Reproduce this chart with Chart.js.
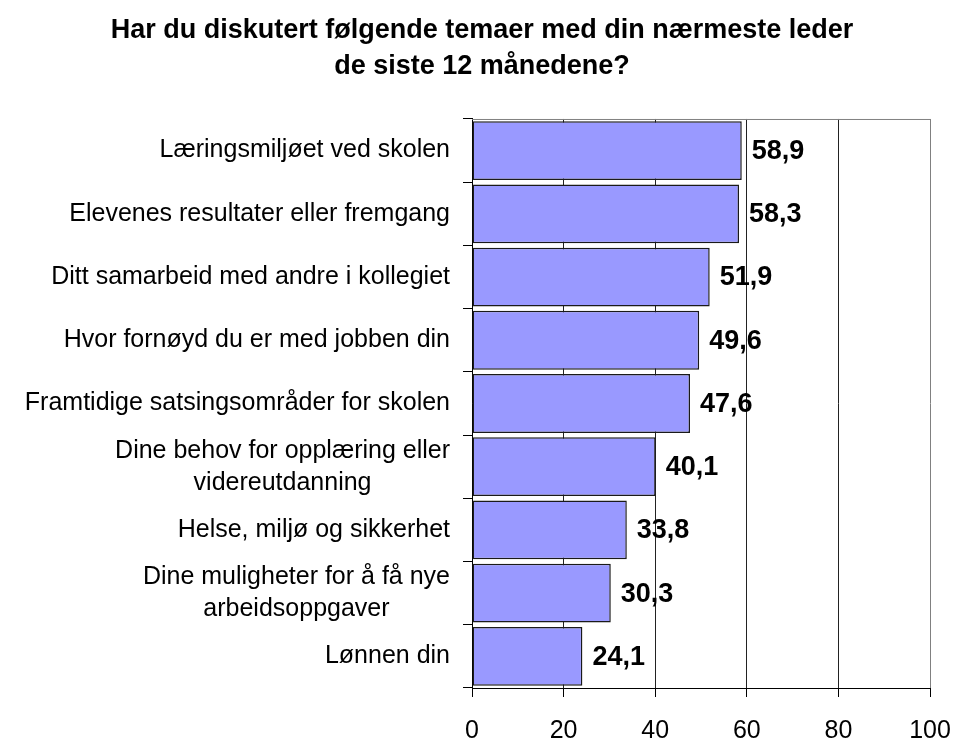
<!DOCTYPE html>
<html>
<head>
<meta charset="utf-8">
<script src="https://cdn.jsdelivr.net/npm/chart.js@4.4.1/dist/chart.umd.min.js"></script>
<style>
  body { margin: 0; background: #fff; }
</style>
</head>
<body>
<canvas id="cv-temaer" width="957" height="740"></canvas>
<script>
const tittel = ['Har du diskutert følgende temaer med din nærmeste leder', 'de siste 12 månedene?'];

const kategorier = [
    ['Læringsmiljøet ved skolen'],
    ['Elevenes resultater eller fremgang'],
    ['Ditt samarbeid med andre i kollegiet'],
    ['Hvor fornøyd du er med jobben din'],
    ['Framtidige satsingsområder for skolen'],
    ['Dine behov for opplæring eller', 'videreutdanning'],
    ['Helse, miljø og sikkerhet'],
    ['Dine muligheter for å få nye', 'arbeidsoppgaver'],
    ['Lønnen din']
];

const verdier = [58.9, 58.3, 51.9, 49.6, 47.6, 40.1, 33.8, 30.3, 24.1];

const xMin = 0;
const xMax = 100;
const xSteg = 20;

const font = '"Liberation Sans", Arial, sans-serif';

// etiketter paa y-aksen (linjene sentrert), verdier ved stolpene og ramme oppe
const tekster = {
    id: 'tekster',
    afterDraw(chart) {
        const ctx = chart.ctx;
        const yAkse = chart.scales.y;
        const area = chart.chartArea;
        ctx.save();

        ctx.strokeStyle = '#808080';
        ctx.lineWidth = 1;
        ctx.beginPath();
        ctx.moveTo(area.left, area.top + 0.5);
        ctx.lineTo(area.right, area.top + 0.5);
        ctx.stroke();

        ctx.font = '25px ' + font;
        ctx.fillStyle = '#000';
        ctx.textAlign = 'center';
        ctx.textBaseline = 'middle';
        const hoyre = yAkse.right - 22;
        kategorier.forEach(function(linjer, i) {
            const yy = yAkse.getPixelForValue(i);
            const bredde = Math.max.apply(null, linjer.map(l => ctx.measureText(l).width));
            const midt = hoyre - bredde / 2;
            linjer.forEach(function(l, j) {
                ctx.fillText(l, midt, yy + (j - (linjer.length - 1) / 2) * 32);
            });
        });

        ctx.font = 'bold 27px ' + font;
        ctx.textAlign = 'left';
        chart.getDatasetMeta(0).data.forEach(function(bar, i) {
            const txt = verdier[i].toFixed(1).replace('.', ',');
            ctx.fillText(txt, bar.x + 10, bar.y + 1);
        });
        ctx.restore();
    }
};

const ctx1 = document.getElementById('cv-temaer').getContext('2d');

const myChart = new Chart(ctx1, {
    type: 'bar',
    data: {
        labels: kategorier.map(l => l.join(' ')),
        datasets: [{
            data: verdier,
            backgroundColor: '#9999ff',
            borderColor: '#1a1a1a',
            borderWidth: 1.5,
            borderSkipped: false,
            barPercentage: 0.93,
            categoryPercentage: 1
        }]
    },
    options: {
        indexAxis: 'y',
        responsive: false,
        animation: false,
        devicePixelRatio: 1,
        layout: {
            padding: { left: 34, right: 27, top: 0, bottom: 0 }
        },
        plugins: {
            legend: { display: false },
            tooltip: { enabled: false },
            title: {
                display: true,
                text: tittel,
                color: '#000',
                font: { family: font, size: 27, weight: 'bold', lineHeight: 1.333 },
                padding: { top: 13, bottom: 34 }
            }
        },
        scales: {
            x: {
                min: xMin,
                max: xMax,
                afterFit: function(scale) {
                    scale.height = 52;
                    scale.paddingLeft = 0;
                    scale.paddingRight = 0;
                },
                ticks: {
                    stepSize: xSteg,
                    color: '#000',
                    padding: 22,
                    font: { family: font, size: 25, lineHeight: 1 }
                },
                grid: {
                    color: function(c) { return c.tick && c.tick.value === xMax ? '#808080' : '#222'; },
                    tickColor: '#000',
                    tickLength: 9,
                    lineWidth: 1
                },
                border: { color: '#000', width: 1 }
            },
            y: {
                afterFit: function(scale) { scale.width = 438; },
                ticks: { display: false },
                grid: {
                    offset: true,
                    drawOnChartArea: false,
                    tickColor: '#000',
                    tickLength: 9
                },
                border: { color: '#000', width: 1 }
            }
        }
    },
    plugins: [tekster]
});
</script>
</body>
</html>
